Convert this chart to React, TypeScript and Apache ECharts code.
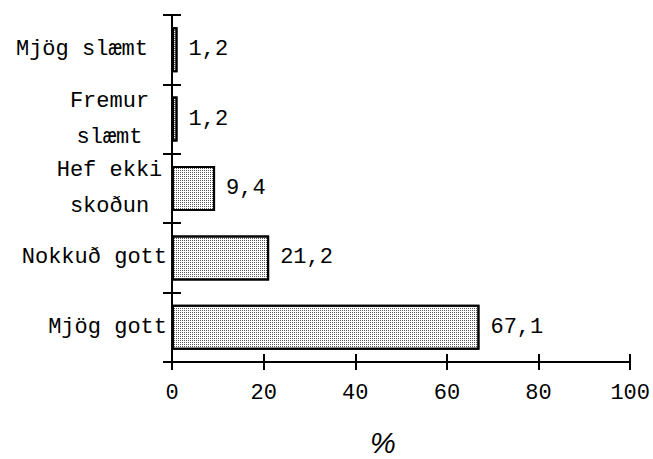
import React, { useEffect, useRef } from "react";
import * as echarts from "echarts";

const categories = ["Mjög gott", "Nokkuð gott", "Hef ekki\nskoðun", "Fremur\nslæmt", "Mjög slæmt"];
const values = [67.1, 21.2, 9.4, 1.2, 1.2];
const xTicks = { min: 0, max: 100, interval: 20 };
const axisName = "%";

const MONO = "'Liberation Mono', 'DejaVu Sans Mono', monospace";
const FS = 22;

export default function App() {
  const ref = useRef<HTMLDivElement>(null);
  useEffect(() => {
    if (!ref.current) return;
    const chart = echarts.init(ref.current, null, { renderer: "svg" });
    const lineStyle = { color: "#000", width: 2 };
    const catLabel = {
      show: true,
      margin: 5,
      color: "#000",
      fontFamily: MONO,
      fontSize: FS,
      formatter: (v: string) => {
        if (v.indexOf("\n") >= 0) {
          return v
            .split("\n")
            .map((s) => "{c|" + s + "}")
            .join("\n");
        }
        if (v === "Mjög slæmt") return "{p|" + v + "}";
        return v;
      },
      rich: {
        c: { width: 115, align: "center", lineHeight: 36, fontFamily: MONO, fontSize: FS, color: "#000" },
        p: { padding: [0, 19, 0, 0], fontFamily: MONO, fontSize: FS, color: "#000" },
      },
    };
    chart.setOption({
      animation: false,
      grid: { left: 172, right: 17, top: 15, bottom: 97, containLabel: false },
      xAxis: [
        {
          type: "value",
          position: "bottom",
          min: xTicks.min,
          max: xTicks.max,
          interval: xTicks.interval,
          axisLine: { show: true, lineStyle },
          axisTick: { show: true, inside: false, length: 8, lineStyle },
          splitLine: { show: false },
          axisLabel: { color: "#000", fontFamily: MONO, fontSize: FS, margin: 20 },
        },
        {
          type: "value",
          position: "bottom",
          min: xTicks.min,
          max: xTicks.max,
          interval: xTicks.interval,
          axisLine: { show: false },
          axisTick: { show: true, inside: true, length: 8, lineStyle },
          splitLine: { show: false },
          axisLabel: { show: false },
        },
      ],
      yAxis: [
        {
          type: "category",
          data: categories,
          position: "left",
          axisLine: { show: true, lineStyle },
          axisTick: { show: true, inside: false, length: 9, lineStyle },
          axisLabel: catLabel,
        },
        {
          type: "category",
          data: categories,
          position: "left",
          axisLine: { show: false },
          axisTick: { show: true, inside: true, length: 9, lineStyle },
          axisLabel: { show: false },
        },
      ],
      series: [
        {
          type: "bar",
          data: values,
          xAxisIndex: 0,
          yAxisIndex: 0,
          barWidth: 45,
          itemStyle: {
            color: "#ffffff",
            borderColor: "#000",
            borderWidth: 2,
            decal: {
              symbol: "rect",
              symbolSize: 1,
              color: "#5a5a5a",
              dashArrayX: [1, 1],
              dashArrayY: [1, 1],
              rotation: 0,
            },
          },
          label: {
            show: true,
            position: "right",
            distance: 11,
            color: "#000",
            fontFamily: MONO,
            fontSize: FS,
            formatter: (p: any) => Number(p.value).toFixed(1).replace(".", ","),
          },
        },
      ],
      graphic: [
        {
          type: "text",
          x: 383,
          y: 443,
          style: {
            text: axisName,
            fill: "#000",
            font: "italic 29px 'Liberation Sans', Arial, sans-serif",
            textAlign: "center",
            textVerticalAlign: "middle",
          },
        },
      ],
    });
    return () => chart.dispose();
  }, []);
  return (
    <div
      ref={ref}
      style={{ position: "fixed", left: 0, top: 0, width: 653, height: 459, background: "#fff" }}
    />
  );
}
